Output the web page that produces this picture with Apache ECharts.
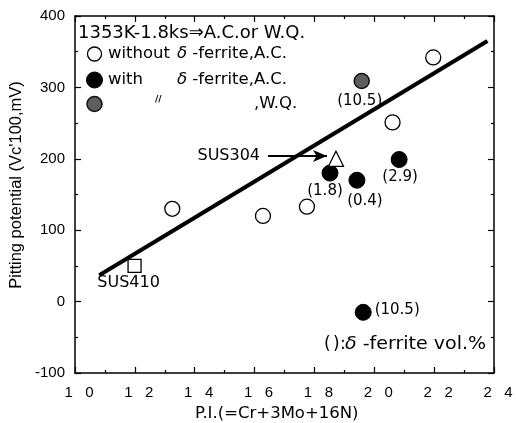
<!DOCTYPE html>
<html>
<head>
<meta charset="utf-8">
<script src="https://cdn.jsdelivr.net/npm/echarts@6/dist/echarts.min.js"></script>
<style>
  html, body { margin: 0; padding: 0; background: #fff; }
  #chart { width: 516px; height: 423px; }
</style>
</head>
<body>
<div id="chart"></div>
<script>
// Pitting potential vs. pitting index (P.I. = Cr + 3Mo + 16N)
const xTicks = [10, 12, 14, 16, 18, 20, 22, 24];
const yTicks = [-100, 0, 100, 200, 300, 400];

// without delta-ferrite, air cooled
const piNoFerrite = [13.25, 16.28, 17.75, 20.61, 21.97];
const vcNoFerrite = [130, 120, 133, 251, 342];

// with delta-ferrite, air cooled (ferrite vol.% in brackets)
const piFerriteAC = [18.52, 19.42, 20.83, 19.63];
const vcFerriteAC = [180, 170, 199, -15];
const ferriteAC = ['1.8', '0.4', '2.9', '10.5'];

// with delta-ferrite, water quenched
const piFerriteWQ = [19.58];
const vcFerriteWQ = [309];
const ferriteWQ = ['10.5'];

// reference grades
const sus304 = [18.72, 200];
const sus410 = [11.99, 50];

// regression line end points
const fitPI = [10.81, 23.78];
const fitVc = [37, 365];

// label placement (pixel offsets from mark centre)
const acLabelOffsets = [[-5, 18], [8, 21], [1, 18], [34, -2]];
const wqLabelOffsets = [[-2, 20]];

const ANNO_FONT = 'DejaVu Sans';
const TICK_FONT = 'Liberation Sans';

const zip = (xs, ys) => xs.map((x, i) => [x, ys[i]]);

const chart = echarts.init(document.getElementById('chart'), null, { renderer: 'canvas' });

const tickStyle = { show: true, inside: true, length: 6, lineStyle: { color: '#000', width: 1.2 } };
const minorStyle = { show: true, splitNumber: 2, length: 3, lineStyle: { color: '#000', width: 1.2 } };
const lineStyle = { show: true, onZero: false, lineStyle: { color: '#000', width: 1.5 } };

// text with an italic delta
const deltaText = (x, y, rest, size, stretch) => ({
  type: 'text', x: x, y: y, scaleX: stretch || 1,
  style: {
    text: '{d|δ}{t| ' + rest + '}', fill: '#000', verticalAlign: 'middle',
    rich: {
      d: { fontFamily: ANNO_FONT, fontSize: size, fontStyle: 'italic', fill: '#000' },
      t: { fontFamily: ANNO_FONT, fontSize: size, fill: '#000' }
    }
  }
});
const plainText = (x, y, text, size) => ({
  type: 'text', x: x, y: y,
  style: { text: text, font: size + 'px "DejaVu Sans"', fill: '#000', verticalAlign: 'middle' }
});

const option = {
  animation: false,
  backgroundColor: '#fff',
  grid: { left: 75, right: 22, top: 16, bottom: 50, containLabel: false },
  xAxis: [
    {
      type: 'value', min: xTicks[0], max: xTicks[xTicks.length - 1], interval: 2,
      position: 'bottom',
      axisLine: lineStyle, axisTick: tickStyle, minorTick: minorStyle,
      splitLine: { show: false },
      axisLabel: {
        color: '#000', fontFamily: TICK_FONT, fontSize: 15, margin: 12,
        padding: [0, 0, 0, 8],
        formatter: v => String(v).split('').join('   ')
      }
    },
    {
      type: 'value', min: xTicks[0], max: xTicks[xTicks.length - 1], interval: 2,
      position: 'top',
      axisLine: lineStyle, axisTick: tickStyle, minorTick: minorStyle,
      splitLine: { show: false }, axisLabel: { show: false }
    }
  ],
  yAxis: [
    {
      type: 'value', min: yTicks[0], max: yTicks[yTicks.length - 1], interval: 100,
      position: 'left',
      axisLine: lineStyle, axisTick: tickStyle, minorTick: minorStyle,
      splitLine: { show: false },
      axisLabel: { color: '#000', fontFamily: TICK_FONT, fontSize: 15, margin: 10 }
    },
    {
      type: 'value', min: yTicks[0], max: yTicks[yTicks.length - 1], interval: 100,
      position: 'right',
      axisLine: lineStyle, axisTick: tickStyle, minorTick: minorStyle,
      splitLine: { show: false }, axisLabel: { show: false }
    }
  ],
  series: [
    {
      name: 'fit', type: 'line', data: zip(fitPI, fitVc),
      symbol: 'none', lineStyle: { color: '#000', width: 4 }, z: 2
    },
    {
      name: 'without δ-ferrite, A.C.', type: 'scatter', data: zip(piNoFerrite, vcNoFerrite),
      symbol: 'circle', symbolSize: 15,
      itemStyle: { color: '#fff', borderColor: '#000', borderWidth: 1.3, opacity: 1 }, z: 3
    },
    {
      name: 'with δ-ferrite, A.C.', type: 'scatter',
      data: piFerriteAC.map((x, i) => ({
        value: [x, vcFerriteAC[i]],
        label: { offset: acLabelOffsets[i] }
      })),
      symbol: 'circle', symbolSize: 16,
      itemStyle: { color: '#000', borderColor: '#000', borderWidth: 1, opacity: 1 },
      label: {
        show: true, position: 'inside', color: '#000',
        fontFamily: ANNO_FONT, fontSize: 15,
        formatter: p => '(' + ferriteAC[p.dataIndex] + ')'
      }, z: 3
    },
    {
      name: 'with δ-ferrite, W.Q.', type: 'scatter',
      data: piFerriteWQ.map((x, i) => ({
        value: [x, vcFerriteWQ[i]],
        label: { offset: wqLabelOffsets[i] }
      })),
      symbol: 'circle', symbolSize: 15,
      itemStyle: { color: '#5e5e5e', borderColor: '#111', borderWidth: 1.5, opacity: 1 },
      label: {
        show: true, position: 'inside', color: '#000',
        fontFamily: ANNO_FONT, fontSize: 15,
        formatter: p => '(' + ferriteWQ[p.dataIndex] + ')'
      }, z: 3
    },
    {
      name: 'SUS304', type: 'scatter', data: [sus304],
      symbol: 'triangle', symbolSize: 15,
      itemStyle: { color: '#fff', borderColor: '#000', borderWidth: 1.3, opacity: 1 }, z: 3,
      markLine: {
        silent: true, animation: false,
        lineStyle: { color: '#000', width: 2, type: 'solid', opacity: 1 },
        symbolSize: [9, 14],
        label: {
          show: true, position: 'start', distance: 8, color: '#000',
          fontFamily: ANNO_FONT, fontSize: 16, formatter: 'SUS304'
        },
        data: [[
          { coord: [16.45, 204], symbol: 'none' },
          { coord: [18.42, 204], symbol: 'arrow' }
        ]]
      }
    },
    {
      name: 'SUS410', type: 'scatter', data: [sus410],
      symbol: 'rect', symbolSize: 13,
      itemStyle: { color: '#fff', borderColor: '#000', borderWidth: 1.3, opacity: 1 },
      label: {
        show: true, position: 'inside', offset: [-6, 17], color: '#000',
        fontFamily: ANNO_FONT, fontSize: 16, formatter: 'SUS410'
      }, z: 3
    }
  ],
  graphic: [
    // axis titles
    {
      type: 'text', left: 195, top: 405,
      style: { text: 'P.I.(=Cr+3Mo+16N)', font: '16.5px "DejaVu Sans"', fill: '#000' }
    },
    {
      type: 'text', x: 16, y: 185, rotation: Math.PI / 2,
      style: {
        text: "Pitting potential (Vc'100,mV)", font: '16.5px "Liberation Sans"', fill: '#000',
        align: 'center', verticalAlign: 'middle'
      }
    },
    // key block
    plainText(78, 33, '1353K-1.8ks⇒A.C.or W.Q.', 18),
    { type: 'circle', shape: { cx: 94.5, cy: 54, r: 7 }, style: { fill: '#fff', stroke: '#000', lineWidth: 1.3 } },
    plainText(108, 54, 'without', 16.5),
    deltaText(177, 54, '-ferrite,A.C.', 16.5),
    { type: 'circle', shape: { cx: 94.5, cy: 80, r: 8 }, style: { fill: '#000', stroke: '#000', lineWidth: 1 } },
    plainText(108, 80, 'with', 16.5),
    deltaText(177, 80, '-ferrite,A.C.', 16.5),
    { type: 'circle', shape: { cx: 94.5, cy: 104, r: 7.5 }, style: { fill: '#5e5e5e', stroke: '#111', lineWidth: 1.5 } },
    { type: 'text', x: 155, y: 100, style: { text: '//', font: 'bold 9px "DejaVu Sans"', fill: '#000', verticalAlign: 'middle' } },
    plainText(254, 104, ',W.Q.', 16.5),
    // bracket note
    plainText(324, 345, '(', 17),
    plainText(333, 345, ')', 17),
    plainText(340, 345, ':', 17),
    deltaText(345, 345, '-ferrite vol.%', 17, 1.12)
  ]
};

chart.setOption(option);
</script>
</body>
</html>
